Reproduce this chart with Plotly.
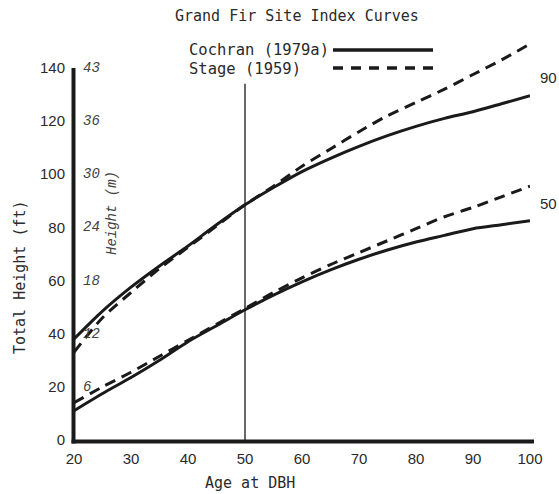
import plotly.graph_objects as go

# ---- data ----
ages = [20, 25, 30, 35, 40, 45, 50, 55, 60, 65, 70, 75, 80, 85, 90, 95, 100]
cochran_90 = [38, 48.5, 57.5, 65.5, 73, 81, 88.5, 95, 101, 106, 110.5, 114.5, 118, 121, 123.5, 126.5, 129.5]
stage_90 = [33, 46, 55.5, 64.5, 72.5, 80.5, 88.5, 95.5, 103, 109.5, 116, 122, 127, 132, 137.5, 143, 149]
cochran_50 = [11, 17.5, 23.5, 30, 37, 43, 49, 54.5, 59.5, 64, 68, 71.5, 74.5, 77, 79.5, 81, 82.5]
stage_50 = [14, 20, 25.5, 31.5, 37.5, 43.5, 49.5, 55.5, 61, 66, 70.5, 75, 79.5, 84, 87.5, 91.5, 95.5]
site_labels = ["90", "50"]
x_ticks = [20, 30, 40, 50, 60, 70, 80, 90, 100]
y_ticks = [0, 20, 40, 60, 80, 100, 120, 140]
metric_ticks_ft = [20, 40, 60, 80, 100, 120, 140]
metric_labels = ["6", "12", "18", "24", "30", "36", "43"]
index_age = 50
index_line_top = 134
y_axis_top = 140
y_view_top = 152

INK = "#1a1a1a"
TXT = "#2a2a2a"
MONO = "DejaVu Sans Mono"
ITAL = "Liberation Mono"
SANS = "Liberation Sans"
DASH = "11px,7px"

fig = go.Figure()
for ys, dash in [(cochran_90, "solid"), (stage_90, DASH), (cochran_50, "solid"), (stage_50, DASH)]:
    fig.add_trace(go.Scatter(x=ages, y=ys, mode="lines", showlegend=False, hoverinfo="skip",
                             line=dict(color=INK, width=3, dash=dash, shape="spline", smoothing=0.8)))

W, H = 559, 494
L, R, T, B = 74, 29, 36, 54
PW, PH = W - L - R, H - T - B


def px(x):
    return (x - L) / PW


def py(y):
    return (H - B - y) / PH


def txt(x, y, text, font, **kw):
    d = dict(x=px(x), y=py(y), xref="paper", yref="paper", text=text, showarrow=False,
             xanchor="center", yanchor="middle", font=font)
    d.update(kw)
    return d


ann = []
ann.append(txt(297, 16, "Grand Fir Site Index Curves", dict(family=MONO, size=15, color=TXT)))
ann.append(txt(187, 50, "Cochran (1979a)", dict(family=MONO, size=15.5, color=TXT), xanchor="left"))
ann.append(txt(187, 69, "Stage (1959)", dict(family=MONO, size=15.5, color=TXT), xanchor="left"))
ann.append(txt(20, 277, "Total Height (ft)", dict(family=MONO, size=15, color=TXT), textangle=-90))
ann.append(txt(250, 483, "Age at DBH", dict(family=MONO, size=15, color=TXT)))
ann.append(txt(112, 213, "Height (m)", dict(family=ITAL, size=14, color="#444", style="italic"), textangle=-90))
# metric tick labels
for ft, lab in zip(metric_ticks_ft, metric_labels):
    ann.append(dict(x=ages[0], y=ft, xref="x", yref="y", text=lab, xanchor="left", yanchor="middle", xshift=7,
                    showarrow=False, font=dict(family=ITAL, size=14, color="#444", style="italic")))
# site index labels
ann.append(dict(x=ages[-1], y=(cochran_90[-1] + stage_90[-1]) / 2, xref="x", yref="y", text=site_labels[0],
                xanchor="left", yanchor="middle", xshift=8, yshift=-8, showarrow=False,
                font=dict(family=SANS, size=15, color=TXT)))
ann.append(dict(x=ages[-1], y=(cochran_50[-1] + stage_50[-1]) / 2, xref="x", yref="y", text=site_labels[1],
                xanchor="left", yanchor="middle", xshift=8, showarrow=False,
                font=dict(family=SANS, size=15, color=TXT)))

shapes = [
    # y axis line (stops at 140 ft while curves may run above it)
    dict(type="line", xref="paper", yref="paper", x0=-0.5 / PW, x1=-0.5 / PW, y0=-3.5 / PH,
         y1=y_axis_top / y_view_top, line=dict(color=INK, width=4)),
    # x axis line
    dict(type="line", xref="paper", yref="paper", x0=-2.5 / PW, x1=1 + 4 / PW, y0=-1.5 / PH, y1=-1.5 / PH,
         line=dict(color=INK, width=4)),
    dict(type="line", xref="x", yref="y", x0=index_age, x1=index_age, y0=0, y1=index_line_top,
         line=dict(color=INK, width=1.3)),
    dict(type="line", xref="paper", yref="paper", x0=px(333), x1=px(433), y0=py(50), y1=py(50),
         line=dict(color=INK, width=3.5)),
    dict(type="line", xref="paper", yref="paper", x0=px(333), x1=px(433), y0=py(68), y1=py(68),
         line=dict(color=INK, width=3.5, dash="10px,8px")),
]

fig.update_layout(
    width=W, height=H, margin=dict(l=L, r=R, t=T, b=B),
    paper_bgcolor="white", plot_bgcolor="white",
    annotations=ann, shapes=shapes, showlegend=False,
    xaxis=dict(range=[20, 100], tickvals=x_ticks, showgrid=False, zeroline=False,
               showline=False, ticks="", ticklabelstandoff=8,
               tickfont=dict(family=SANS, size=15, color=TXT)),
    yaxis=dict(range=[0, y_view_top], tickvals=y_ticks, showgrid=False, zeroline=False,
               showline=False, ticks="", ticklabelstandoff=8,
               tickfont=dict(family=SANS, size=15, color=TXT)),
)
fig.write_html("out.html", config={"displayModeBar": False},
               post_script="document.body.style.margin='0';document.body.style.overflow='hidden';")
